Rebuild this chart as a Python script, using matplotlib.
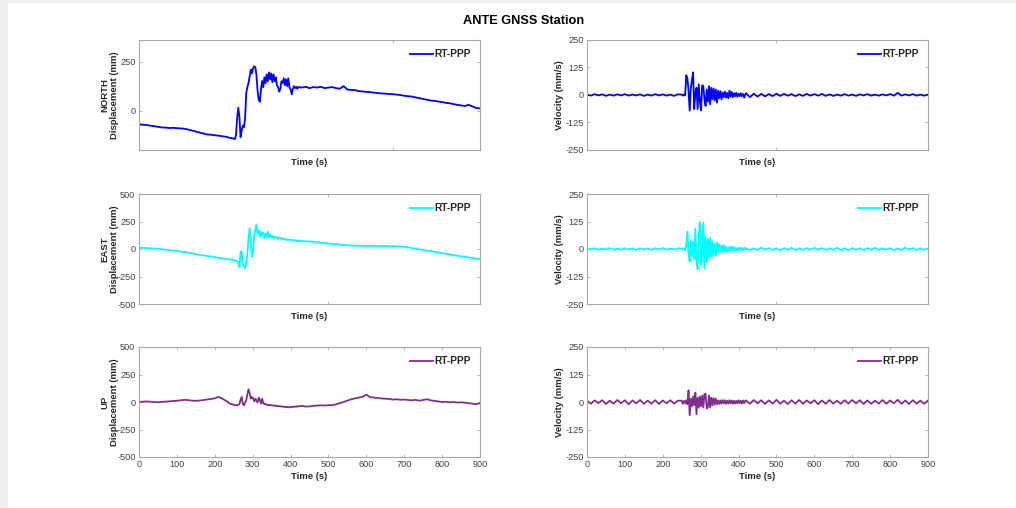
import numpy as np
import matplotlib
matplotlib.use('Agg')
import matplotlib.pyplot as plt
from matplotlib.patches import Rectangle

plt.rcParams['font.family'] = ['Liberation Sans', 'DejaVu Sans']
plt.rcParams['axes.unicode_minus'] = False

# time axis (s): coarse before/after the shaking, denser during it
t_quiet = np.arange(0, 250, 10)
t_quake = np.arange(250, 420, 3)
t_tail = np.arange(420, 901, 10)
time_s = np.concatenate([t_quiet, t_quake, t_tail])

# displacement (mm)
north_disp = ([-70, -71, -73, -76, -79, -82, -85, -86, -88, -87, -89, -90, -92, -96, -101,
               -106, -111, -116, -121, -122, -125, -127, -130, -133, -138]
              + [-142, -145, -125, -40, 15, -30, -135, -100, -75, -85, -40, 90, 120, 140, 175,
                 209, 190, 215, 226, 222, 180, 100, 55, 46, 110, 151, 120, 170, 140, 185,
                 150, 195, 160, 190, 145, 185, 150, 170, 130, 120, 97, 110, 150, 140, 165,
                 130, 160, 125, 165, 120, 110, 84, 110, 125, 115, 122, 112]
              + [120, 118, 122, 115, 120, 118, 122, 115, 118, 120, 115, 112, 125, 108, 106,
                 105, 100, 98, 96, 95, 92, 90, 88, 87, 85, 84, 82, 80, 76, 74,
                 72, 68, 64, 60, 56, 52, 50, 47, 44, 40, 38, 34, 30, 27, 24, 30, 22, 14, 12])

east_disp = ([12, 10, 8, 6, 4, 2, -3, -6, -10, -14, -18, -22, -27, -33, -40,
              -47, -53, -58, -63, -68, -74, -80, -86, -90, -95]
             + [-100, -103, -108, -110, -125, -166, -30, -20, -140, -160, -171, -120, -40, 100, 190,
                60, -70, -20, 120, 180, 220, 140, 170, 110, 160, 120, 150, 100, 140, 110,
                160, 105, 130, 110, 120, 95, 115, 100, 110, 90, 105, 95, 100, 88, 95,
                85, 92, 80, 88, 82, 86, 78, 84, 76, 80, 72, 78]
             + [74, 72, 70, 68, 66, 62, 58, 55, 50, 48, 44, 40, 36, 33, 32,
                30, 31, 28, 30, 27, 29, 27, 26, 28, 25, 26, 24, 22, 21, 16,
                8, 2, -5, -10, -15, -19, -25, -32, -38, -44, -50, -56, -62, -67, -71,
                -77, -83, -88, -93])

up_disp = ([0, 2, 5, 3, 1, -2, 0, 3, 6, 8, 11, 15, 20, 17, 12,
            11, 13, 18, 22, 28, 33, 47, 30, 10, -15]
           + [-25, -30, -28, -32, -25, -20, 20, 45, -20, -30, -5, 15, 70, 116, 80,
              30, 45, 35, 5, 30, 15, -5, 40, 20, -15, 30, -10, -20, -15, -25,
              -30, -25, -30, -28, -33, -30, -35, -32, -38, -35, -40, -38, -42, -40, -45,
              -42, -48, -44, -50, -46, -45, -48, -42, -45, -40, -44, -38]
           + [-40, -35, -42, -40, -35, -33, -30, -32, -30, -28, -22, -10, 0, 12, 25,
              32, 40, 48, 66, 45, 40, 37, 32, 30, 28, 22, 25, 20, 22, 18,
              15, 20, 12, 18, 25, 15, 10, 5, 0, 2, -3, 0, -5, -3, -6,
              -10, -15, -20, -10])

# velocity (mm/s)
north_vel = ([2, -3, 4, -2, 3, -4, 2, -3, 3, -2, 4, -3, 2, -2, 3, -4, 2, -3, 4, -2, 3, -3, 2, -4, 3]
             + [2, -3, 3, -2, 90, 75, 20, -71, 30, 70, 103, -64, 10, 33, -64,
                48, -30, -70, 44, 40, -20, -50, 25, -30, 40, -42, 33, -20, 30, -25,
                25, -35, 20, -15, 18, -20, 12, -10, 15, -12, 10, -15, 20, -8, 14,
                -10, 8, -6, 10, -8, 6, -5, 8, -6, 5, -12, 4]
             + [8, -10, 6, -7, 5, -6, 4, -5, 6, -4, 5, -3, 4, -5, 3, -4, 5, -3, 4, -3,
                5, -4, 3, -4, 2, -3, 4, -3, 2, -4, 3, -2, 4, -3, 2, -3, 3, -2, 4, -3,
                10, -3, 3, -2, 4, -3, 2, -3, 2])

east_vel = ([2, -2, 3, -3, 2, -2, 4, -3, 2, -3, 3, -2, 2, -4, 3, -2, 2, -3, 3, -2, 4, -3, 2, -2, 3]
            + [2, -3, 2, -5, 20, 78, -20, -57, 40, -30, 33, -45, 93, -60, -92,
               60, 123, -70, -40, 119, -87, 55, -60, 45, -40, 50, -35, 35, -30, 25,
               -30, 30, -15, 22, -12, 15, -10, 18, -12, 10, -14, 8, -8, 12, -6,
               10, -8, 6, -10, 5, -4, 6, -5, 4, -6, 5, -3]
            + [4, -5, 3, -4, 6, -3, 4, -4, 3, -5, 4, -3, 5, -4, 3, -4, 4, -3, 5, -3,
               4, -4, 3, -3, 5, -4, 3, -5, 4, -3, 3, -4, 4, -3, 5, -4, 3, -3, 4, -5,
               3, -4, 6, -3, 4, -4, 3, -3, 2])

up_vel = ([6, -8, 7, -5, 8, -9, 6, -7, 9, -6, 8, -10, 7, -6, 9, -8, 6, -7, 8, -9, 7, -6, 8, -7, 6]
          + [6, -8, 5, -6, 8, -10, 53, -60, 15, -20, 25, -15, 42, -56, 20,
             -25, 25, -20, 30, -25, 35, 38, -30, -22, 30, -25, 20, -15, 18, -12,
             15, -10, 8, -9, 7, -8, 9, -6, 8, -9, 6, -7, 8, -6, 7,
             -8, 6, -7, 5, -6, 8, -5, 6, -8, 7, -5, 6]
          + [7, -8, 9, -6, 8, -9, 7, -7, 10, -8, 6, -9, 8, -7, 9, -8, 7, -6, 8, -10,
             7, -8, 9, -7, 6, -8, 8, -7, 9, -6, 8, -9, 7, -8, 6, -7, 9, -8, 7, -6,
             10, -8, 7, -9, 8, -7, 6, -8, 7])

components = ['NORTH', 'EAST', 'UP']
colors = ['#0000ff', '#00ffff', '#7e2f8e']
disp_series = [north_disp, east_disp, up_disp]
vel_series = [north_vel, east_vel, up_vel]
disp_limits = [(-200, 360), (-500, 500), (-500, 500)]
disp_ticks = [[0, 250], [-500, -250, 0, 250, 500], [-500, -250, 0, 250, 500]]
vel_ticks = [-250, -125, 0, 125, 250]
upper_xticks = [[670], [500]]
bottom_xticks = list(range(0, 901, 100))

spine_gray = '#a8a8a8'
text_gray = '#404040'

fig = plt.figure(figsize=(10.16, 5.08), dpi=100)
fig.patches.append(Rectangle((0, 0), 7 / 1016, 1, transform=fig.transFigure,
                             color='#efefef', zorder=-10))
fig.patches.append(Rectangle((0, 1 - 2 / 508), 1, 2 / 508, transform=fig.transFigure,
                             color='#efefef', zorder=-10))

col_left = [139 / 1016, 587 / 1016]
row_bottom = [1 - 150 / 508, 1 - 304 / 508, 1 - 457 / 508]
ax_w, ax_h = 341 / 1016, 110 / 508


def style_axis(ax, xticks, yticks, ylim, show_xlabels):
    ax.set_xlim(0, 900)
    ax.set_ylim(*ylim)
    ax.set_xticks(xticks)
    ax.set_yticks(yticks)
    if not show_xlabels:
        ax.set_xticklabels([])
    for s in ax.spines.values():
        s.set_color(spine_gray)
        s.set_linewidth(0.8)
    ax.tick_params(direction='in', length=2.2, width=0.6, color=spine_gray,
                   top=True, right=True, labelsize=6.6, labelcolor=text_gray, pad=2.5)
    ax.set_xlabel('Time (s)', fontsize=6.8, fontweight='bold', color='#262626',
                  labelpad=1.5 if show_xlabels else 3)
    leg = ax.legend(loc='upper right', frameon=False, handlelength=2.2,
                    handletextpad=0.15, prop={'size': 7.4, 'weight': 'bold'})
    for txt in leg.get_texts():
        txt.set_color('#262626')


for row in range(3):
    last = row == 2
    # displacement column
    ax = fig.add_axes([col_left[0], row_bottom[row], ax_w, ax_h])
    ax.plot(time_s, disp_series[row], color=colors[row], lw=1.3, label='RT-PPP')
    xt = bottom_xticks if last else upper_xticks[0 if row == 0 else 1]
    style_axis(ax, xt, disp_ticks[row], disp_limits[row], last)
    ax.set_ylabel(f'{components[row]}\nDisplacement (mm)', fontsize=6.8,
                  fontweight='bold', color='#262626', linespacing=1.05)
    ax.yaxis.set_label_coords(-0.06, 0.5)

    # velocity column
    ax = fig.add_axes([col_left[1], row_bottom[row], ax_w, ax_h])
    ax.plot(time_s, vel_series[row], color=colors[row], lw=1.3, label='RT-PPP')
    xt = bottom_xticks if last else upper_xticks[1]
    style_axis(ax, xt, vel_ticks, (-250, 250), last)
    ax.set_ylabel('Velocity (mm/s)', fontsize=6.8, fontweight='bold', color='#262626')
    ax.yaxis.set_label_coords(-0.068, 0.5)

fig.text(0.515, 1 - 21 / 508, 'ANTE GNSS Station', ha='center', va='center',
         fontsize=9.2, fontweight='bold', color='black')

fig.savefig('out.png', dpi=100)
